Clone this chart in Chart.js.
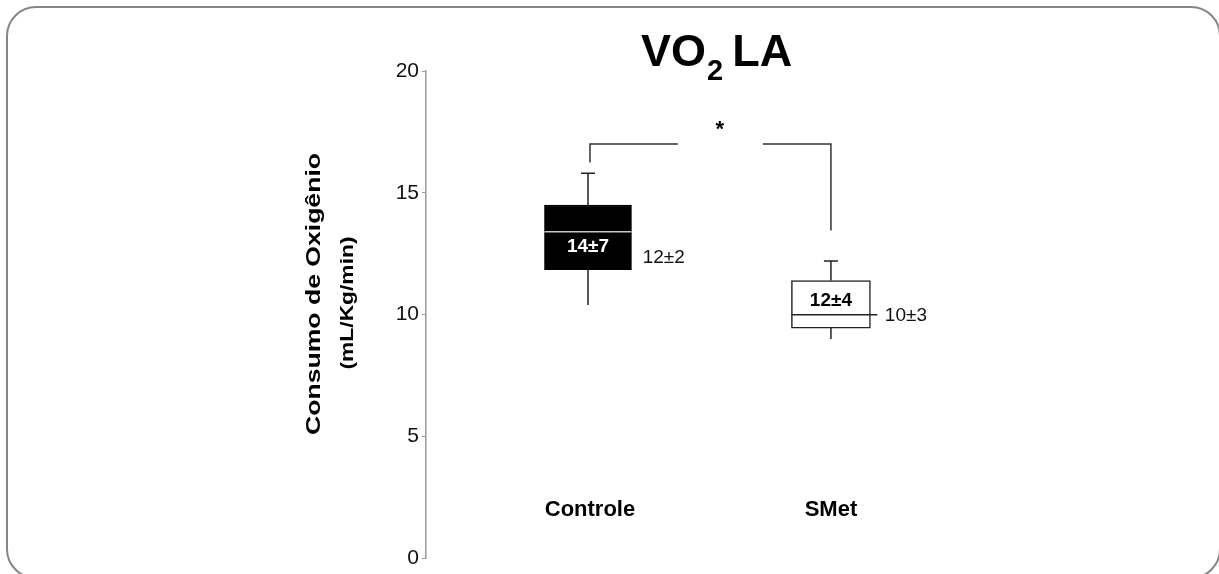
<!DOCTYPE html>
<html>
<head>
<meta charset="utf-8">
<script src="https://cdn.jsdelivr.net/npm/chart.js@4.4.1/dist/chart.umd.min.js"></script>
<style>
  html, body { margin: 0; padding: 0; background: #fff; overflow: hidden; }
  #wrap { position: relative; width: 1219px; height: 574px; }
  #frame { position: absolute; left: 6px; top: 6px; width: 1215px; height: 573px; box-sizing: border-box;
           border: 2.5px solid #858585; border-radius: 30px; }
  canvas { position: absolute; left: 0; top: 0; }
</style>
</head>
<body>
<div id="wrap">
  <div id="frame"></div>
  <canvas id="chart" width="1219" height="574"></canvas>
</div>
<script>
// dados do boxplot
const groups = ["Controle", "SMet"];
const positions = [1, 2];
const q1 = [11.85, 9.45];
const q3 = [14.5, 11.4];
const medians = [13.4, 10.0];
const whiskerLow = [10.4, 9.0];
const whiskerHigh = [15.8, 12.2];
const meanLabels = ["14±7", "12±4"];
const medianLabels = ["12±2", "10±3"];
const yTicks = [0, 5, 10, 15, 20];

// anotações (coordenadas em unidades do gráfico)
const meanLabelY = [12.77, 10.56];
const medianLabelX = [1.225, 2.222];
const medianLabelY = [12.35, 9.94];
const bracketLevel = 17;
const bracketDrops = [16.25, 13.45];
const bracketGap = [1.37, 1.72];
const FONT = "'Liberation Sans', Arial, sans-serif";

const boxFill = ["#000", "#fff"];
const boxBorder = ["#000", "#222"];
const boxWidth = [87, 79];

const boxPlugin = {
  id: "boxExtras",
  afterDatasetsDraw(chart) {
    const ctx = chart.ctx;
    const xs = chart.scales.x, ys = chart.scales.y;
    ctx.save();
    ctx.lineCap = "butt";

    groups.forEach((g, i) => {
      const bar = chart.getDatasetMeta(i).data[0];
      const x = xs.getPixelForValue(positions[i]);
      const left = bar.x - bar.width / 2, right = bar.x + bar.width / 2;

      // bigodes
      ctx.strokeStyle = "#222";
      ctx.lineWidth = 1.5;
      ctx.beginPath();
      ctx.moveTo(x, ys.getPixelForValue(q3[i]));
      ctx.lineTo(x, ys.getPixelForValue(whiskerHigh[i]));
      ctx.moveTo(x - 7, ys.getPixelForValue(whiskerHigh[i]));
      ctx.lineTo(x + 7, ys.getPixelForValue(whiskerHigh[i]));
      ctx.moveTo(x, ys.getPixelForValue(q1[i]));
      ctx.lineTo(x, ys.getPixelForValue(whiskerLow[i]));
      ctx.stroke();

      // mediana
      ctx.strokeStyle = i === 0 ? "#c8c8c8" : "#222";
      ctx.beginPath();
      const ym = ys.getPixelForValue(medians[i]);
      ctx.moveTo(left, ym);
      ctx.lineTo(i === 0 ? right : right + 7, ym);
      ctx.stroke();

      // textos
      ctx.textBaseline = "middle";
      ctx.textAlign = "center";
      ctx.fillStyle = i === 0 ? "#fff" : "#000";
      ctx.font = "bold 19px " + FONT;
      ctx.fillText(meanLabels[i], x, ys.getPixelForValue(meanLabelY[i]));

      ctx.textAlign = "left";
      ctx.fillStyle = "#111";
      ctx.font = "19px " + FONT;
      ctx.fillText(medianLabels[i], xs.getPixelForValue(medianLabelX[i]), ys.getPixelForValue(medianLabelY[i]));

      ctx.textAlign = "center";
      ctx.fillStyle = "#000";
      ctx.font = "bold 22px " + FONT;
      ctx.fillText(g, x + (i === 0 ? 2 : 0), ys.getPixelForValue(1.98));
    });

    // colchete de significância
    const yb = ys.getPixelForValue(bracketLevel);
    const x1 = xs.getPixelForValue(positions[0]) + 2, x2 = xs.getPixelForValue(positions[1]);
    ctx.strokeStyle = "#333";
    ctx.lineWidth = 1.5;
    ctx.beginPath();
    ctx.moveTo(x1, ys.getPixelForValue(bracketDrops[0]));
    ctx.lineTo(x1, yb);
    ctx.lineTo(xs.getPixelForValue(bracketGap[0]), yb);
    ctx.moveTo(xs.getPixelForValue(bracketGap[1]), yb);
    ctx.lineTo(x2, yb);
    ctx.lineTo(x2, ys.getPixelForValue(bracketDrops[1]));
    ctx.stroke();
    ctx.fillStyle = "#000";
    ctx.textAlign = "center";
    ctx.font = "bold 22px " + FONT;
    ctx.fillText("*", xs.getPixelForValue(1.543), ys.getPixelForValue(17.6));

    // título VO2LA
    ctx.textAlign = "left";
    ctx.textBaseline = "alphabetic";
    let tx = 641;
    ctx.font = "bold 45px " + FONT;
    ctx.fillText("VO", tx, 66);
    tx += ctx.measureText("VO").width + 1;
    ctx.font = "bold 29px " + FONT;
    ctx.fillText("2", tx, 80);
    tx += ctx.measureText("2").width + 9;
    ctx.font = "bold 45px " + FONT;
    ctx.fillText("LA", tx, 66);

    // título do eixo y
    const drawRot = (text, font, cx, cy, len) => {
      ctx.save();
      ctx.font = font;
      const w = ctx.measureText(text).width;
      ctx.translate(cx, cy);
      ctx.rotate(-Math.PI / 2);
      ctx.scale(len / w, 1);
      ctx.textAlign = "center";
      ctx.textBaseline = "middle";
      ctx.fillText(text, 0, 0);
      ctx.restore();
    };
    drawRot("Consumo de Oxigênio", "bold 21px " + FONT, 314, 294, 282);
    drawRot("(mL/Kg/min)", "bold 18px " + FONT, 348, 303, 133);
    ctx.restore();
  }
};

const ctx = document.getElementById("chart").getContext("2d");
new Chart(ctx, {
  type: "bar",
  data: {
    datasets: groups.map((g, i) => ({
      label: g,
      data: [{ x: positions[i], y: [q1[i], q3[i]] }],
      backgroundColor: boxFill[i],
      borderColor: boxBorder[i],
      borderWidth: 1.5,
      borderSkipped: false,
      barThickness: boxWidth[i],
      grouped: false
    }))
  },
  options: {
    responsive: false,
    animation: false,
    layout: { padding: { left: 0, right: 218, top: 71, bottom: 15 } },
    plugins: { legend: { display: false }, tooltip: { enabled: false } },
    scales: {
      x: { type: "linear", display: false, offset: false, min: 0.3333, max: 2.7 },
      y: {
        min: 0, max: 20,
        afterFit: s => { s.width = 426; },
        afterBuildTicks: s => { s.ticks = yTicks.map(v => ({ value: v })); },
        ticks: { color: "#111", padding: 3, font: { family: FONT, size: 21 } },
        grid: { drawOnChartArea: false, color: "#999", tickLength: 4 },
        border: { color: "#999", width: 1.5 }
      }
    }
  },
  plugins: [boxPlugin]
});
</script>
</body>
</html>
